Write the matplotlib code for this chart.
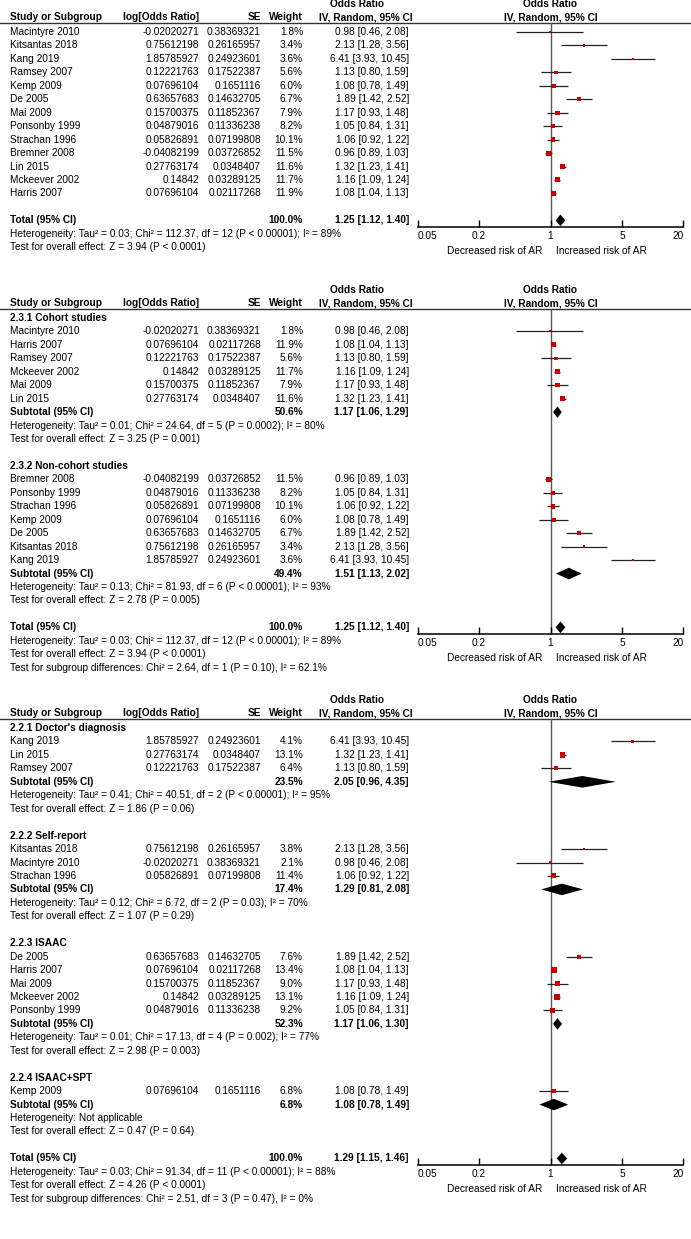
import matplotlib.pyplot as plt
import numpy as np
from matplotlib.ticker import NullLocator

plt.rcParams['font.family'] = ['Liberation Sans', 'DejaVu Sans']
FS = 7.3

# study level data (same in every panel)
studies = ["Macintyre 2010", "Kitsantas 2018", "Kang 2019", "Ramsey 2007", "Kemp 2009",
           "De 2005", "Mai 2009", "Ponsonby 1999", "Strachan 1996", "Bremner 2008",
           "Lin 2015", "Mckeever 2002", "Harris 2007"]
log_or = [-0.02020271, 0.75612198, 1.85785927, 0.12221763, 0.07696104,
          0.63657683, 0.15700375, 0.04879016, 0.05826891, -0.04082199,
          0.27763174, 0.14842, 0.07696104]
se_vals = [0.38369321, 0.26165957, 0.24923601, 0.17522387, 0.1651116,
           0.14632705, 0.11852367, 0.11336238, 0.07199808, 0.03726852,
           0.0348407, 0.03289125, 0.02117268]
or_vals = [0.98, 2.13, 6.41, 1.13, 1.08, 1.89, 1.17, 1.05, 1.06, 0.96, 1.32, 1.16, 1.08]
ci_lo = [0.46, 1.28, 3.93, 0.80, 0.78, 1.42, 0.93, 0.84, 0.92, 0.89, 1.23, 1.09, 1.04]
ci_hi = [2.08, 3.56, 10.45, 1.59, 1.49, 2.52, 1.48, 1.31, 1.22, 1.03, 1.41, 1.24, 1.13]

# panel 1: all studies
p1_names = studies
p1_weights = [1.8, 3.4, 3.6, 5.6, 6.0, 6.7, 7.9, 8.2, 10.1, 11.5, 11.6, 11.7, 11.9]
p1_total = (1.25, 1.12, 1.40)
p1_notes = ["Heterogeneity: Tau\u00b2 = 0.03; Chi\u00b2 = 112.37, df = 12 (P < 0.00001); I\u00b2 = 89%",
            "Test for overall effect: Z = 3.94 (P < 0.0001)"]

# panel 2: cohort / non-cohort
p2_titles = ["2.3.1 Cohort studies", "2.3.2 Non-cohort studies"]
p2_names = [["Macintyre 2010", "Harris 2007", "Ramsey 2007", "Mckeever 2002", "Mai 2009", "Lin 2015"],
            ["Bremner 2008", "Ponsonby 1999", "Strachan 1996", "Kemp 2009", "De 2005",
             "Kitsantas 2018", "Kang 2019"]]
p2_weights = [[1.8, 11.9, 5.6, 11.7, 7.9, 11.6],
              [11.5, 8.2, 10.1, 6.0, 6.7, 3.4, 3.6]]
p2_sub_w = [50.6, 49.4]
p2_sub = [(1.17, 1.06, 1.29), (1.51, 1.13, 2.02)]
p2_het = ["Heterogeneity: Tau\u00b2 = 0.01; Chi\u00b2 = 24.64, df = 5 (P = 0.0002); I\u00b2 = 80%",
          "Heterogeneity: Tau\u00b2 = 0.13; Chi\u00b2 = 81.93, df = 6 (P < 0.00001); I\u00b2 = 93%"]
p2_z = ["Test for overall effect: Z = 3.25 (P = 0.001)",
        "Test for overall effect: Z = 2.78 (P = 0.005)"]
p2_total = (1.25, 1.12, 1.40)
p2_notes = ["Heterogeneity: Tau\u00b2 = 0.03; Chi\u00b2 = 112.37, df = 12 (P < 0.00001); I\u00b2 = 89%",
            "Test for overall effect: Z = 3.94 (P < 0.0001)",
            "Test for subgroup differences: Chi\u00b2 = 2.64, df = 1 (P = 0.10), I\u00b2 = 62.1%"]

# panel 3: diagnosis method
p3_titles = ["2.2.1 Doctor's diagnosis", "2.2.2 Self-report", "2.2.3 ISAAC", "2.2.4 ISAAC+SPT"]
p3_names = [["Kang 2019", "Lin 2015", "Ramsey 2007"],
            ["Kitsantas 2018", "Macintyre 2010", "Strachan 1996"],
            ["De 2005", "Harris 2007", "Mai 2009", "Mckeever 2002", "Ponsonby 1999"],
            ["Kemp 2009"]]
p3_weights = [[4.1, 13.1, 6.4], [3.8, 2.1, 11.4], [7.6, 13.4, 9.0, 13.1, 9.2], [6.8]]
p3_sub_w = [23.5, 17.4, 52.3, 6.8]
p3_sub = [(2.05, 0.96, 4.35), (1.29, 0.81, 2.08), (1.17, 1.06, 1.30), (1.08, 0.78, 1.49)]
p3_het = ["Heterogeneity: Tau\u00b2 = 0.41; Chi\u00b2 = 40.51, df = 2 (P < 0.00001); I\u00b2 = 95%",
          "Heterogeneity: Tau\u00b2 = 0.12; Chi\u00b2 = 6.72, df = 2 (P = 0.03); I\u00b2 = 70%",
          "Heterogeneity: Tau\u00b2 = 0.01; Chi\u00b2 = 17.13, df = 4 (P = 0.002); I\u00b2 = 77%",
          "Heterogeneity: Not applicable"]
p3_z = ["Test for overall effect: Z = 1.86 (P = 0.06)",
        "Test for overall effect: Z = 1.07 (P = 0.29)",
        "Test for overall effect: Z = 2.98 (P = 0.003)",
        "Test for overall effect: Z = 0.47 (P = 0.64)"]
p3_total = (1.29, 1.15, 1.46)
p3_notes = ["Heterogeneity: Tau\u00b2 = 0.03; Chi\u00b2 = 91.34, df = 11 (P < 0.00001); I\u00b2 = 88%",
            "Test for overall effect: Z = 4.26 (P < 0.0001)",
            "Test for subgroup differences: Chi\u00b2 = 2.51, df = 3 (P = 0.47), I\u00b2 = 0%"]

W, H = 691, 1239
ROW = 13.45
X_NAME, X_LOG, X_SE, X_W, X_CI = 10, 199, 261, 303, 409
X_LEFT, X_RIGHT = 417.6, 683.4
RED = '#cc0000'

fig = plt.figure(figsize=(W / 100, H / 100), dpi=100)
ax = fig.add_axes([0, 0, 1, 1])
ax.set_xlim(0, W)
ax.set_ylim(H, 0)
ax.axis('off')


def txt(x, y, s, ha='left', bold=False):
    ax.text(x, y, s, ha=ha, va='center', fontsize=FS, fontweight='bold' if bold else 'normal')


def ci_text(e, l, h):
    return f"{e:.2f} [{l:.2f}, {h:.2f}]"


def draw_panel(first_y, groups, total, notes):
    rows = []
    for g in groups:
        if g['title']:
            rows.append(('title', g['title']))
        for n, w in zip(g['names'], g['weights']):
            rows.append(('study', n, w))
        if g['title']:
            rows.append(('sub', g['sub_w'], g['pooled']))
            rows.append(('text', g['het']))
            rows.append(('text', g['z']))
        rows.append(('blank',))
    rows.append(('total', 100.0, total))
    for t in notes:
        rows.append(('text', t))

    y_or, y_hdr, y_ul = first_y - 28, first_y - 15, first_y - 9.5
    x_one = X_LEFT + (X_RIGHT - X_LEFT) * np.log10(1 / 0.05) / np.log10(20 / 0.05)
    # headers
    ax.text(357, y_or, "Odds Ratio", ha='center', va='center', fontsize=FS, fontweight='bold')
    ax.text(x_one, y_or, "Odds Ratio", ha='center', va='center', fontsize=FS, fontweight='bold')
    txt(X_NAME, y_hdr, "Study or Subgroup", bold=True)
    txt(X_LOG, y_hdr, "log[Odds Ratio]", ha='right', bold=True)
    txt(X_SE, y_hdr, "SE", ha='right', bold=True)
    txt(X_W, y_hdr, "Weight", ha='right', bold=True)
    txt(413, y_hdr, "IV, Random, 95% CI", ha='right', bold=True)
    ax.text(x_one, y_hdr, "IV, Random, 95% CI", ha='center', va='center', fontsize=FS, fontweight='bold')
    ax.axhline(y_ul, color='#333333', lw=1.0)

    ys = [first_y + i * ROW for i in range(len(rows))]
    y_total = [ys[i] for i, r in enumerate(rows) if r[0] == 'total'][0]
    y_axis = y_total + 0.5 * ROW

    fa = fig.add_axes([X_LEFT / W, 1 - y_axis / H, (X_RIGHT - X_LEFT) / W, (y_axis - y_ul) / H])
    fa.set_facecolor('none')
    fa.set_xscale('log')
    fa.set_xlim(0.05, 20)
    fa.set_ylim(y_axis, y_ul)
    for s in ['top', 'left', 'right']:
        fa.spines[s].set_visible(False)
    fa.spines['bottom'].set_linewidth(1.1)
    fa.set_yticks([])
    fa.set_xticks([0.05, 0.2, 1, 5, 20])
    fa.set_xticklabels(['0.05', '0.2', '1', '5', '20'])
    fa.xaxis.set_minor_locator(NullLocator())
    fa.tick_params(axis='x', direction='in', length=5, width=1, pad=3, labelsize=FS)
    lbls = fa.get_xticklabels()
    lbls[0].set_ha('left')
    lbls[-1].set_ha('right')
    fa.axvline(1, color='#555555', lw=1.0, zorder=1)

    sx, sy, sl, sh, sw = [], [], [], [], []
    for y, r in zip(ys, rows):
        kind = r[0]
        if kind == 'title':
            txt(X_NAME, y, r[1], bold=True)
        elif kind == 'study':
            k = studies.index(r[1])
            txt(X_NAME, y, r[1])
            txt(X_LOG, y, str(log_or[k]), ha='right')
            txt(X_SE, y, str(se_vals[k]), ha='right')
            txt(X_W, y, f"{r[2]:.1f}%", ha='right')
            txt(X_CI, y, ci_text(or_vals[k], ci_lo[k], ci_hi[k]), ha='right')
            sx.append(or_vals[k]); sl.append(ci_lo[k]); sh.append(ci_hi[k])
            sy.append(y); sw.append(r[2])
        elif kind in ('sub', 'total'):
            e, l, h = r[2]
            txt(X_NAME, y, "Subtotal (95% CI)" if kind == 'sub' else "Total (95% CI)", bold=True)
            txt(X_W, y, f"{r[1]:.1f}%", ha='right', bold=True)
            txt(X_CI, y, ci_text(e, l, h), ha='right', bold=True)
            dh = 5.8
            fa.fill([l, e, h, e], [y, y - dh, y, y + dh], color='black', lw=0, zorder=3)
        elif kind == 'text':
            txt(X_NAME, y, r[1])

    fa.hlines(sy, sl, sh, color='#222222', lw=0.9, zorder=2)
    fa.scatter(sx, sy, s=1.12 * np.array(sw), marker='s', color=RED, linewidths=0, zorder=3)

    ax.text(x_one - 8, y_axis + 24, "Decreased risk of AR", ha='right', va='center', fontsize=FS)
    ax.text(x_one + 6, y_axis + 24, "Increased risk of AR", ha='left', va='center', fontsize=FS)


draw_panel(32, [dict(title=None, names=p1_names, weights=p1_weights)], p1_total, p1_notes)

draw_panel(318, [dict(title=t, names=n, weights=w, sub_w=sw, pooled=p, het=hh, z=z)
                 for t, n, w, sw, p, hh, z in zip(p2_titles, p2_names, p2_weights, p2_sub_w,
                                                  p2_sub, p2_het, p2_z)], p2_total, p2_notes)

draw_panel(728, [dict(title=t, names=n, weights=w, sub_w=sw, pooled=p, het=hh, z=z)
                 for t, n, w, sw, p, hh, z in zip(p3_titles, p3_names, p3_weights, p3_sub_w,
                                                  p3_sub, p3_het, p3_z)], p3_total, p3_notes)

fig.savefig('out.png', dpi=100)
